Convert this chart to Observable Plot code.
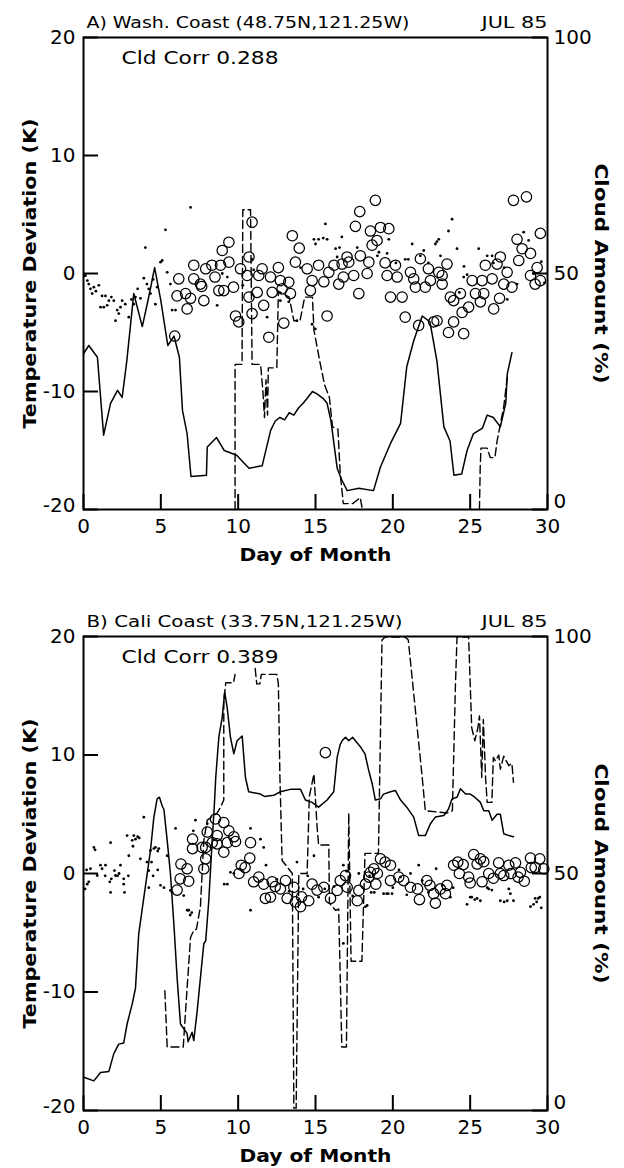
<!DOCTYPE html>
<html><head><meta charset="utf-8">
<script src="https://cdn.jsdelivr.net/npm/d3@7"></script>
<script src="https://cdn.jsdelivr.net/npm/@observablehq/plot@0.6"></script>
<style>body{margin:0;background:#fff} svg{display:block}</style>
</head><body><div id="chart"></div>
<script>
// ---- shared axis values ----
const dayTicks = [0, 5, 10, 15, 20, 25, 30];
const tempTicks = [-20, -10, 0, 10, 20];
const cloudTicks = [0, 50, 100];
const xLabel = "Day of Month";
const yLabel = "Temperature Deviation (K)";
const y2Label = "Cloud Amount (%)";

// ---- Panel A: Washington coast ----
const titleA = "A) Wash. Coast (48.75N,121.25W)";
const monthA = "JUL 85";
const corrA = "Cld Corr 0.288";
// [day, temperature deviation K]
const circlesA = [[5.9,-5.3],[6.05,-1.9],[6.16,-0.45],[6.6,-1.7],[6.7,-3.0],[6.92,-2.1],[7.13,0.7],[7.13,-0.45],[7.56,-0.9],[7.64,-1.1],[7.78,-2.3],[7.9,0.4],[8.3,0.7],[8.5,-0.3],[8.75,-1.45],[8.86,0.7],[8.97,1.95],[9.07,-1.45],[9.4,2.65],[9.4,0.96],[9.7,-1.16],[9.83,-3.6],[10.04,-4.1],[10.15,0.4],[10.58,-0.17],[10.7,1.4],[10.7,-2.0],[10.9,4.35],[10.9,-3.4],[11.23,-1.6],[11.33,-0.17],[11.55,0.4],[11.65,-2.7],[11.98,-5.4],[12.09,-0.3],[12.2,-1.6],[12.6,0.5],[12.73,-0.6],[12.84,-1.3],[12.95,-4.2],[13.27,-0.74],[13.38,-1.7],[13.5,3.2],[13.7,0.96],[13.95,2.15],[14.46,0.4],[14.78,-0.6],[14.67,-1.45],[15.2,0.7],[15.54,-0.7],[15.75,-3.6],[15.86,0.1],[16.2,0.7],[16.5,-0.9],[16.72,0.8],[16.8,-0.3],[17.04,1.4],[17.15,0.96],[17.47,-0.17],[17.58,4.0],[17.8,-1.7],[17.86,5.25],[17.9,1.5],[18.34,0],[18.45,0.96],[18.55,3.6],[18.66,2.4],[18.98,2.8],[18.87,6.2],[19.2,3.9],[19.5,0.9],[19.74,3.8],[19.63,-0.17],[19.85,-2.0],[20.17,0.7],[20.28,-0.3],[20.6,-2.0],[20.8,-3.7],[21.14,0.1],[21.35,-0.45],[21.46,-1.16],[21.67,-4.4],[21.78,1.25],[22.1,-1.16],[22.3,0.4],[22.43,-0.6],[22.64,-4.1],[22.86,-4.0],[22.97,0.1],[23.19,-0.17],[23.19,-0.9],[23.5,0.8],[23.72,-2.0],[23.93,-2.3],[23.6,-5.0],[23.93,-4.1],[24.37,-1.7],[24.58,-5.1],[24.48,-3.3],[24.9,-2.85],[25.13,-0.6],[25.34,-1.7],[25.66,-2.4],[25.77,-0.6],[25.98,0.7],[25.88,-1.7],[26.42,-0.45],[26.52,-3.0],[26.74,0.8],[26.95,1.4],[26.9,-2.1],[27.17,-0.9],[27.39,0.1],[27.7,-1.16],[27.8,6.2],[28.03,2.9],[28.14,1.1],[28.36,2.1],[28.64,6.5],[28.9,1.7],[28.9,-0.17],[29.2,-0.9],[29.33,0.5],[29.54,-0.6],[29.54,3.4]];
const dotsA = [[0.05,-0.2],[0.13,-0.17],[0.25,-0.6],[0.34,-0.9],[0.45,-1.3],[0.56,-1.7],[0.67,-1.16],[0.8,-1.5],[0.99,-1.0],[1.1,-2.85],[1.2,-1.9],[1.31,-2.85],[1.42,-1.9],[1.53,-2.7],[1.64,-2.3],[1.8,-2.0],[1.96,-2.3],[2.07,-4.0],[2.18,-3.1],[2.28,-3.4],[2.39,-2.85],[2.5,-2.3],[2.7,-2.6],[2.93,-3.7],[3.1,-2.2],[3.25,-2.6],[3.36,-2.0],[3.5,-1.3],[3.68,-2.1],[3.9,-0.4],[4.0,2.2],[4.1,-0.9],[4.22,-1.3],[4.33,-1.7],[4.5,-0.5],[4.65,-2.6],[4.76,-1.16],[4.98,0.96],[5.09,1.1],[5.3,3.7],[5.41,0.1],[5.62,-0.9],[5.73,-3.1],[5.95,-3.1],[6.92,5.6],[8.64,-2.7],[8.97,0.0],[9.3,-0.3],[10.3,-1.0],[10.9,1.2],[11.0,0.3],[11.87,-3.7],[12.73,-2.3],[13.27,-2.4],[13.8,-4.0],[14.03,0.5],[14.78,-4.3],[14.99,-4.7],[14.9,2.9],[15.0,2.5],[15.2,2.9],[15.5,3.0],[15.64,4.2],[15.75,2.9],[16.3,2.1],[16.4,1.4],[16.55,2.2],[16.7,3.1],[17.7,2.2],[19.0,1.5],[19.1,1.8],[19.63,1.7],[19.74,2.9],[20.2,0.9],[20.8,1.2],[21.0,1.2],[21.25,2.5],[21.78,1.5],[22.0,1.95],[22.3,0.9],[22.75,2.5],[22.85,2.7],[22.97,2.9],[23.08,1.5],[23.6,3.6],[23.83,4.6],[24.15,2.1],[24.3,-1.6],[24.6,0.6],[24.58,-0.3],[24.8,-0.1],[25.55,2.1],[26.1,1.5],[26.42,1.5],[26.5,0.9],[27.2,0.5],[27.4,-2.2],[28.03,-0.9],[28.46,3.5],[28.78,2.8],[29.1,0.0],[29.6,1.0],[29.8,-0.8]];
// [day, cloud amount %]
const solidA = [[0,33],[0.34,34.75],[0.9,32.25],[1.3,15.75],[1.75,22.5],[2.2,25.25],[2.5,23.75],[2.8,31.5],[3.25,45.75],[3.8,38.75],[4.2,44.75],[4.6,51.25],[5.0,44.25],[5.45,34.75],[5.85,36.75],[6.2,32.25],[6.4,21],[6.7,16],[6.95,7],[7.95,7.25],[8.0,13.25],[8.6,15.25],[9.1,12.5],[9.9,11.5],[10.7,8.75],[11.55,9.25],[12.1,16.75],[12.4,18.75],[12.7,19.5],[13.0,19],[13.3,20.5],[13.6,20],[13.9,21.5],[14.2,22.5],[14.45,23.5],[14.8,25],[15.1,24.5],[15.5,23.5],[15.75,22.5],[16.0,18.75],[16.2,13.75],[16.4,8.75],[16.7,6.25],[17.05,4],[17.8,4.5],[18.75,4],[19.2,9],[19.85,14],[20.5,18.25],[20.9,30.25],[21.35,35.75],[21.9,41],[22.4,39.75],[22.85,31.5],[23.3,17.5],[23.7,14.5],[23.95,7.25],[24.45,7.5],[24.8,12.5],[25.2,16],[25.8,17.25],[26.1,20],[26.5,19.5],[26.95,17.5],[27.3,22.5],[27.4,28.75],[27.7,33.25]];
const dashedA = [[9.8,0],[9.8,30.75],[10.25,30.75],[10.3,63.5],[10.8,63.5],[10.9,30.75],[11.45,30.75],[11.6,25],[11.7,19.5],[11.8,27.5],[11.9,20],[11.95,30],[12.5,30],[12.6,46.25],[13.3,45],[13.6,40],[14.0,40],[14.3,45],[14.8,45],[14.9,38],[15.3,31],[15.6,26.25],[15.9,23.75],[16.1,17.5],[16.45,17],[16.6,7.5],[16.8,1.25],[17.4,1.25],[17.9,2.5],[18.0,0.5],[18.0,null],[25.6,0],[25.65,9],[25.7,13],[26.1,13],[26.3,11],[26.6,11],[26.74,14.5],[27.17,21.75],[27.4,28]];

// ---- Panel B: California coast ----
const titleB = "B) Cali Coast (33.75N,121.25W)";
const monthB = "JUL 85";
const corrB = "Cld Corr 0.389";
const circlesB = [[6.05,-1.4],[6.25,-0.45],[6.3,0.8],[6.7,0.4],[6.8,-0.65],[7.05,2.9],[7.05,2.1],[7.67,2.2],[7.78,0.4],[7.9,1.24],[7.9,2.2],[8.0,3.5],[8.32,2.6],[8.53,4.6],[8.64,3.2],[8.64,2.5],[9.07,4.3],[9.07,1.8],[9.29,2.6],[9.4,3.6],[9.72,3.1],[9.83,2.7],[10.05,0.0],[10.2,0.7],[10.45,0.5],[10.75,1.3],[10.8,2.6],[11.0,-0.7],[11.33,-0.3],[11.65,-0.9],[11.76,-2.1],[12.09,-2.0],[12.2,-0.7],[12.4,-1.1],[12.73,-1.3],[13.06,-0.6],[13.17,-2.1],[13.6,-1.16],[13.7,-2.4],[14.03,-2.8],[14.1,-1.97],[14.56,-2.3],[14.78,-0.9],[15.1,-1.4],[15.54,-1.16],[15.64,10.2],[15.97,-2.1],[16.4,-1.43],[16.6,-0.6],[16.94,-0.17],[17.05,-1.16],[17.7,-2.3],[17.8,-1.43],[18.23,-0.9],[18.45,-0.3],[18.55,0.1],[18.77,0.4],[18.9,-0.9],[19.0,0.0],[19.2,1.24],[19.5,0.96],[19.85,0.7],[19.85,-0.6],[20.38,-0.3],[20.7,-0.6],[21.14,-1.16],[21.6,-1.3],[21.72,-2.2],[22.2,-0.6],[22.4,-1.0],[22.64,-1.7],[22.75,-2.5],[23.08,-1.3],[23.4,-1.7],[23.5,-1.0],[23.93,0.7],[24.2,0.96],[24.3,0.0],[24.55,0.75],[24.9,-0.3],[25.0,-0.8],[25.23,1.6],[25.45,0.8],[25.66,1.24],[25.77,-0.7],[25.88,1.0],[26.2,0.0],[26.5,-0.4],[26.84,0.9],[26.95,0.0],[27.17,-0.17],[27.5,0.7],[27.65,0.0],[27.93,0.9],[28.1,-0.3],[28.25,0.1],[28.5,-0.65],[28.9,1.3],[28.95,0.5],[29.2,0.5],[29.5,1.24],[29.76,0.4]];
const dotsB = [[0.1,-1.3],[0.24,-0.9],[0.2,0.3],[0.34,-0.7],[0.45,0.4],[0.67,2.2],[0.75,2.0],[0.89,-0.17],[1.1,0.7],[1.2,0.4],[1.42,0.7],[1.4,-0.2],[1.7,-0.7],[1.75,2.6],[1.75,-1.6],[1.8,-0.45],[2.0,0.25],[2.07,-0.17],[2.2,-0.2],[2.3,0],[2.39,0.7],[2.6,-0.45],[2.6,-0.9],[2.65,-1.6],[2.82,3.2],[2.93,1.5],[2.9,-0.2],[3.15,2.8],[3.2,2.3],[3.25,3.2],[3.36,2.9],[3.5,3.1],[3.6,3.0],[3.68,1.24],[3.9,4.75],[4.1,0.96],[4.22,0.25],[4.22,-1.2],[4.33,1.94],[4.4,0.96],[4.5,-0.2],[4.55,2.1],[4.65,2.2],[4.8,1.9],[4.8,0.3],[4.87,2.1],[4.98,-1.0],[5.2,-1.2],[5.41,1.5],[5.62,-1.43],[5.73,-1.6],[5.95,3.8],[6.48,-1.86],[6.7,-3.1],[6.8,-3.1],[6.9,-3.5],[7.0,-3.3],[7.1,3.6],[7.24,4.5],[8.0,4.2],[9.1,-0.9],[9.3,-0.9],[9.5,0.1],[9.72,0],[10.8,3.8],[10.8,-3.1],[11.44,2.9],[11.65,2.2],[11.8,0.7],[12.5,-0.5],[13.3,-1.5],[13.8,0.96],[14.2,-1.3],[14.5,-0.2],[14.9,1.5],[15.2,-2.0],[15.6,-1.3],[16.2,-1.1],[16.8,0.7],[16.8,-5.9],[17.0,0.2],[17.2,-0.3],[17.4,-1.9],[17.8,0],[18.23,-2.8],[18.34,-2.7],[18.5,-0.2],[18.6,-1.6],[18.8,-1.6],[19.4,-1.7],[19.6,-1.7],[19.7,-1.7],[19.95,-1.7],[20.0,-1.2],[20.4,0.3],[20.5,-0.3],[20.9,-1.8],[21.14,0],[21.67,0.7],[21.9,-0.6],[22.3,-1.6],[22.8,0.4],[23.2,-1.0],[23.72,-2.0],[23.9,-1.2],[24.8,-2.6],[25.0,-2.0],[25.1,-2.0],[25.3,-2.2],[25.45,-2.1],[25.66,-2.3],[26.1,-1.2],[26.2,-1.3],[26.4,-1.4],[26.95,-2.3],[27.2,-2.4],[27.4,-2.3],[27.5,-1.3],[27.6,-1.7],[27.8,-2.3],[28.9,-2.8],[29.1,-2.6],[29.2,-2.1],[29.3,-2.4],[29.4,-2.1],[29.5,-2.0],[29.6,-2.9]];
const solidB = [[0.02,7],[0.67,6.25],[1.1,8],[1.64,8.25],[1.96,12],[2.28,14],[2.6,14.25],[2.82,18.25],[3.15,22.5],[3.36,25.75],[3.57,37.25],[3.85,43.75],[4.33,54.85],[4.55,61.9],[4.76,65.75],[4.91,66.1],[5.09,64.25],[5.2,63.5],[5.41,57],[5.62,50],[5.84,39.5],[6.05,28.1],[6.27,18.25],[6.7,16.25],[6.76,14.5],[7.02,16.5],[7.13,14.75],[7.35,21],[7.78,35.25],[7.9,35.75],[8.1,44.25],[8.32,57],[8.45,63.75],[8.55,70.25],[8.75,78.75],[8.97,83],[9.13,88.25],[9.29,85],[9.5,78.75],[9.72,75.25],[9.93,78],[10.26,79],[10.47,70.25],[10.68,67.25],[11.44,66.75],[11.7,66.25],[12.3,66.5],[12.73,67.25],[13.38,67.75],[14.03,67.75],[14.35,65.5],[14.78,65],[15.2,64],[15.75,65.5],[16.18,67.25],[16.4,74.5],[16.6,77.25],[16.72,78],[16.94,78.75],[17.15,78],[17.4,78.75],[17.58,78],[17.9,76.75],[18.2,75.25],[18.44,71.75],[18.66,69],[18.87,65.5],[19.2,65.75],[19.4,66.75],[19.85,67.25],[20.17,67.5],[20.5,65.5],[20.9,64],[21.35,61.9],[21.67,58],[22.1,58],[22.43,60.5],[22.75,61.9],[23.3,62.25],[23.6,63.6],[23.83,65.75],[24.15,66.1],[24.37,67.9],[24.7,66.75],[25.0,66.75],[25.3,66.1],[25.66,65],[25.88,63.25],[26.2,63.25],[26.42,61.25],[26.74,62.5],[26.95,62.5],[27.17,58.4],[27.5,58],[27.8,57.75]];
const dashedB = [[5.26,25.25],[5.41,13.4],[6.45,13.4],[6.6,21],[6.92,36.5],[7.13,38],[7.3,38.25],[7.56,43],[7.67,50],[7.78,57],[8.0,61.25],[8.64,62.75],[8.86,64],[9.07,65.5],[9.07,86.5],[9.2,90.25],[9.7,90.25],[9.8,92],[9.8,null],[11.1,93.25],[11.2,90],[11.4,90],[11.5,92],[12.5,92],[12.6,90],[12.7,70.25],[12.84,52.75],[13.2,51.25],[13.5,50],[13.6,0.5],[13.75,0.5],[13.92,50],[14.46,50],[14.6,66.25],[14.9,71],[15.1,60],[15.2,56],[15.86,56],[15.9,43.75],[16.3,42.25],[16.5,42.5],[16.7,13.4],[17.0,13.4],[17.15,62.75],[17.3,31.5],[18.0,31.5],[18.2,54.25],[19.07,54.25],[19.3,99.25],[19.5,99.9],[20.8,99.9],[21.0,99.25],[21.9,70.25],[22.1,63.25],[23.5,62.75],[23.85,63.25],[24.05,90],[24.15,99.9],[24.9,99.9],[25.1,80.75],[25.3,78],[25.5,80.75],[25.6,83.25],[25.75,70.25],[25.85,82.5],[26.0,70],[26.1,65],[26.4,65],[26.5,74.5],[26.64,73.75],[26.85,75],[26.95,72],[27.17,74.75],[27.5,72.75],[27.7,73.25],[27.8,69.25]];

// cloud % <-> temperature-axis conversion (right axis 0..100 spans left axis -20..20)
const cloudToT = c => c / 2.5 - 20;
const tToCloud = t => (t + 20) * 2.5;

const FONT = "DejaVu Sans";
const WIDTH = 624, ML = 83, MR = 77;

function panel({title, month, corr, circles, dots, solid, dashed, height, marginTop, marginBottom}) {
  const plotW = WIDTH - ML - MR;
  const plotH = height - marginTop - marginBottom;
  const rightMain = cloudTicks.slice(1).map(cloudToT);
  const rightLow = cloudTicks.slice(0, 1).map(cloudToT);
  const leftMain = tempTicks.slice(1);
  const leftLow = tempTicks.slice(0, 1);
  const svg = Plot.plot({
    width: WIDTH, height, marginTop, marginBottom, marginLeft: ML, marginRight: MR,
    style: {fontFamily: FONT, fontSize: "20px", background: "#fff", color: "#000", overflow: "visible"},
    x: {domain: [0, 30]},
    y: {domain: [-20, 20]},
    marks: [
      Plot.line(solid, {x: d => d[0], y: d => cloudToT(d[1]), stroke: "#000", strokeWidth: 1.5, curve: "linear"}),
      Plot.line(dashed, {x: d => d[0], y: d => d[1] == null ? NaN : cloudToT(d[1]), stroke: "#000", strokeWidth: 1.4, strokeDasharray: "8,4"}),
      Plot.dot(dots, {x: d => d[0], y: d => d[1], r: 1.4, fill: "#000", stroke: null}),
      Plot.dot(circles, {x: d => d[0], y: d => d[1], r: 5.2, fill: "none", stroke: "#000", strokeWidth: 1.25}),
      Plot.frame({stroke: "#000", strokeWidth: 2}),
      Plot.tickX(dayTicks, {x: d => d, insetTop: plotH - 15, stroke: "#000", strokeWidth: 2}),
      Plot.tickY(tempTicks, {y: d => d, insetRight: plotW - 15, stroke: "#000", strokeWidth: 2}),
      Plot.tickY(cloudTicks, {y: d => cloudToT(d), insetLeft: plotW - 15, stroke: "#000", strokeWidth: 2}),
      Plot.axisX(dayTicks, {anchor: "bottom", tickSize: 0, tickPadding: 9, label: null, tickFormat: d => String(d), fontSize: 20}),
      Plot.axisY(leftMain, {anchor: "left", tickSize: 0, tickPadding: 8, label: null, tickFormat: d => String(d), fontSize: 20}),
      Plot.axisY(leftLow, {anchor: "left", tickSize: 0, tickPadding: 8, label: null, tickFormat: d => String(d), fontSize: 20, dy: -4}),
      Plot.axisY(rightMain, {anchor: "right", tickSize: 0, tickPadding: 6, label: null, tickFormat: d => String(Math.round(tToCloud(d))), fontSize: 20}),
      Plot.axisY(rightLow, {anchor: "right", tickSize: 0, tickPadding: 6, label: null, tickFormat: d => String(Math.round(tToCloud(d))), fontSize: 20, dy: -8}),
      Plot.text([title], {text: d => d, frameAnchor: "top-left", textAnchor: "start", lineAnchor: "bottom", dx: 3, dy: -10, fontSize: 16}),
      Plot.text([month], {text: d => d, frameAnchor: "top-right", textAnchor: "end", lineAnchor: "bottom", dx: 0, dy: -10, fontSize: 16}),
      Plot.text([corr], {text: d => d, frameAnchor: "top-left", textAnchor: "start", lineAnchor: "bottom", dx: 38, dy: 26, fontSize: 18}),
      Plot.text([yLabel], {text: d => d, frameAnchor: "left", rotate: -90, textAnchor: "middle", lineAnchor: "middle", dx: -53, fontSize: 17, fontWeight: "bold"}),
      Plot.text([y2Label], {text: d => d, frameAnchor: "right", rotate: 90, textAnchor: "middle", lineAnchor: "middle", dx: 53, fontSize: 17, fontWeight: "bold"}),
      Plot.text([xLabel], {text: d => d, frameAnchor: "bottom", textAnchor: "middle", lineAnchor: "bottom", dy: 51, fontSize: 18, fontWeight: "bold"})
    ]
  });
  const fit = {[title]: title.startsWith("A") ? 323 : 316, [month]: 66, [corr]: 157, [yLabel]: 310, [y2Label]: 220, [xLabel]: 152};
  for (const t of svg.querySelectorAll("text")) {
    const s = t.textContent;
    if (fit[s] && t.children.length === 0) {
      t.setAttribute("textLength", fit[s]);
      t.setAttribute("lengthAdjust", "spacingAndGlyphs");
    }
  }
  return svg;
}

const root = document.getElementById("chart");
root.appendChild(panel({title: titleA, month: monthA, corr: corrA, circles: circlesA, dots: dotsA, solid: solidA, dashed: dashedA, height: 580, marginTop: 37, marginBottom: 71}));
root.appendChild(panel({title: titleB, month: monthB, corr: corrB, circles: circlesB, dots: dotsB, solid: solidB, dashed: dashedB, height: 588, marginTop: 56, marginBottom: 58}));
</script>
</body></html>
